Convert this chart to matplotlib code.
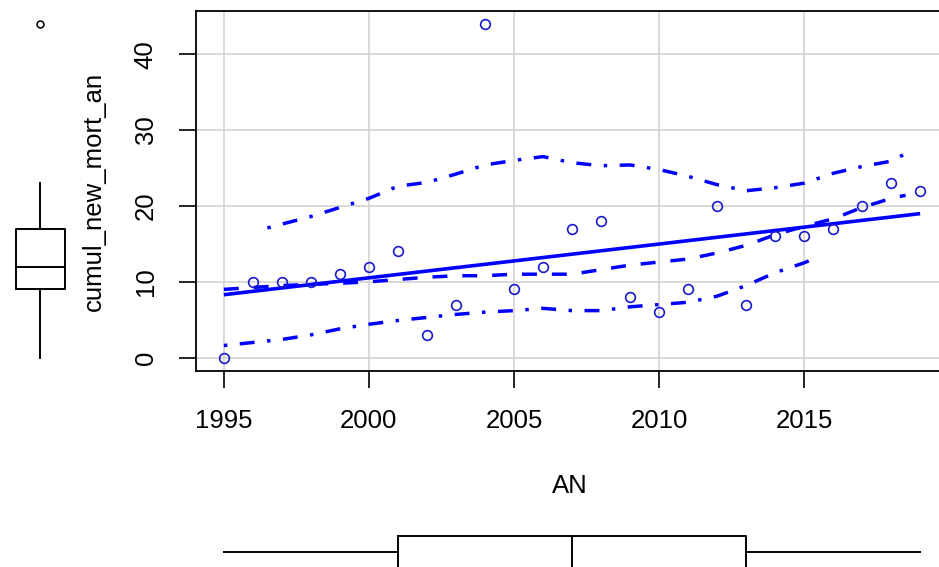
import numpy as np
import matplotlib.pyplot as plt

# ── Data ──────────────────────────────────────────────────────────────────────
AN = [1995, 1996, 1997, 1998, 1999, 2000, 2001, 2002, 2003, 2004, 2005, 2006,
      2007, 2008, 2009, 2010, 2011, 2012, 2013, 2014, 2015, 2016, 2017, 2018,
      2019]
CUMUL = [0, 10, 10, 10, 11, 12, 14, 3, 7, 44, 9, 12,
         17, 18, 8, 6, 9, 20, 7, 16, 16, 17, 20, 23,
         22]

# loess smoother and its spread bands
SMOOTH_X = [1995, 1997, 1999, 2000, 2001, 2002, 2003, 2004, 2005, 2006, 2007,
            2008, 2009, 2010, 2011, 2012, 2013, 2014, 2015, 2016, 2017, 2018,
            2018.5]
SMOOTH_Y = [9.0, 9.5, 9.8, 10.0, 10.3, 10.6, 10.8, 10.8, 11.0, 11.0, 11.0,
            11.6, 12.2, 12.6, 13.0, 13.8, 14.8, 16.2, 17.3, 18.3, 19.8, 21.0,
            21.4]

UPPER_X = [1996.5, 1997, 1998, 1999, 2000, 2001, 2002, 2003, 2004, 2005, 2006,
           2007, 2008, 2009, 2010, 2011, 2012, 2013, 2014, 2015, 2016, 2017,
           2018, 2018.5]
UPPER_Y = [17.1, 17.6, 18.6, 19.8, 21.0, 22.6, 23.1, 24.2, 25.4, 26.0, 26.5,
           25.7, 25.3, 25.4, 24.8, 23.9, 22.8, 22.0, 22.4, 23.0, 24.3, 25.2,
           25.9, 26.9]

LOWER_X = [1995, 1996, 1997, 1998, 1999, 2000, 2001, 2002, 2003, 2004, 2005,
           2006, 2007, 2008, 2009, 2010, 2011, 2012, 2013, 2014, 2015, 2015.5]
LOWER_Y = [1.6, 2.0, 2.4, 3.0, 3.8, 4.4, 4.9, 5.3, 5.7, 6.0, 6.2,
           6.5, 6.2, 6.2, 6.7, 7.0, 7.3, 8.1, 9.5, 11.2, 12.5, 13.3]

XTICKS = [1995, 2000, 2005, 2010, 2015]
YTICKS = [0, 10, 20, 30, 40]

# ── Style ─────────────────────────────────────────────────────────────────────
W, H = 939, 567
BLUE = "#0000ff"
XLIM = (1994.04, 2019.96)
YLIM = (-1.76, 45.76)
plt.rcParams["font.family"] = ["Liberation Sans", "DejaVu Sans"]
plt.rcParams["font.size"] = 18.5

fig = plt.figure(figsize=(W / 100, H / 100), dpi=100)


def px_axes(left, top, right, bottom):
    return fig.add_axes([left / W, 1 - bottom / H,
                         (right - left) / W, (bottom - top) / H])


# ── Main scatter panel ────────────────────────────────────────────────────────
ax = px_axes(196, 10.5, 948, 371)
ax.set_xlim(*XLIM)
ax.set_ylim(*YLIM)
ax.set_xticks(XTICKS)
ax.set_yticks(YTICKS)
ax.grid(True, color="#d3d3d3", linewidth=1.2)
ax.set_axisbelow(True)
for sp in ax.spines.values():
    sp.set_linewidth(1.3)
ax.tick_params(length=12, width=1.2, pad=15.5, colors="black")
ax.tick_params(axis="y", labelrotation=90)
for lbl in ax.get_yticklabels():
    lbl.set_va("center")

x = np.array(AN, dtype=float)
y = np.array(CUMUL, dtype=float)
slope, icpt = np.polyfit(x, y, 1)
xs = np.array([x.min(), x.max()])
ax.plot(xs, icpt + slope * xs, color=BLUE, linewidth=2.6,
        solid_capstyle="butt", zorder=3)

ax.plot(SMOOTH_X, SMOOTH_Y, color=BLUE, linewidth=2.5,
        dashes=(4.3, 4.3), dash_capstyle="butt", zorder=3)
for bx, by in [(UPPER_X, UPPER_Y), (LOWER_X, LOWER_Y)]:
    ax.plot(bx, by, color=BLUE, linewidth=2.5,
            dashes=(1, 3.6, 4.3, 3.6), dash_capstyle="butt", zorder=3)

ax.plot(x, y, linestyle="none", marker="o", markersize=7,
        markerfacecolor="none", markeredgecolor="#1a1acc",
        markeredgewidth=1.2, zorder=4)

fig.text(570 / W, 1 - 486 / H, "AN", ha="center", va="center")
fig.text(94 / W, 1 - 191 / H, "cumul_new_mort_an", rotation=90,
         ha="center", va="center")

box_kw = dict(showcaps=False, patch_artist=False,
              boxprops=dict(color="black", linewidth=1.4),
              whiskerprops=dict(color="black", linewidth=1.4),
              medianprops=dict(color="black", linewidth=1.4),
              flierprops=dict(marker="o", markersize=5,
                              markerfacecolor="none",
                              markeredgecolor="black",
                              markeredgewidth=1.1))

# ── Marginal boxplot of the response (left) ──────────────────────────────────
axl = px_axes(0, 10.5, 80, 371)
axl.boxplot(y, positions=[40], widths=49, **box_kw)
axl.set_xlim(0, 80)
axl.set_ylim(*YLIM)
axl.axis("off")

# ── Marginal boxplot of the predictor (bottom) ───────────────────────────────
axb = px_axes(196, 520, 948, 584)
axb.boxplot(x, positions=[32], widths=32, orientation="horizontal", **box_kw)
axb.set_xlim(*XLIM)
axb.set_ylim(64, 0)
axb.axis("off")

fig.savefig("out.png", dpi=100)
